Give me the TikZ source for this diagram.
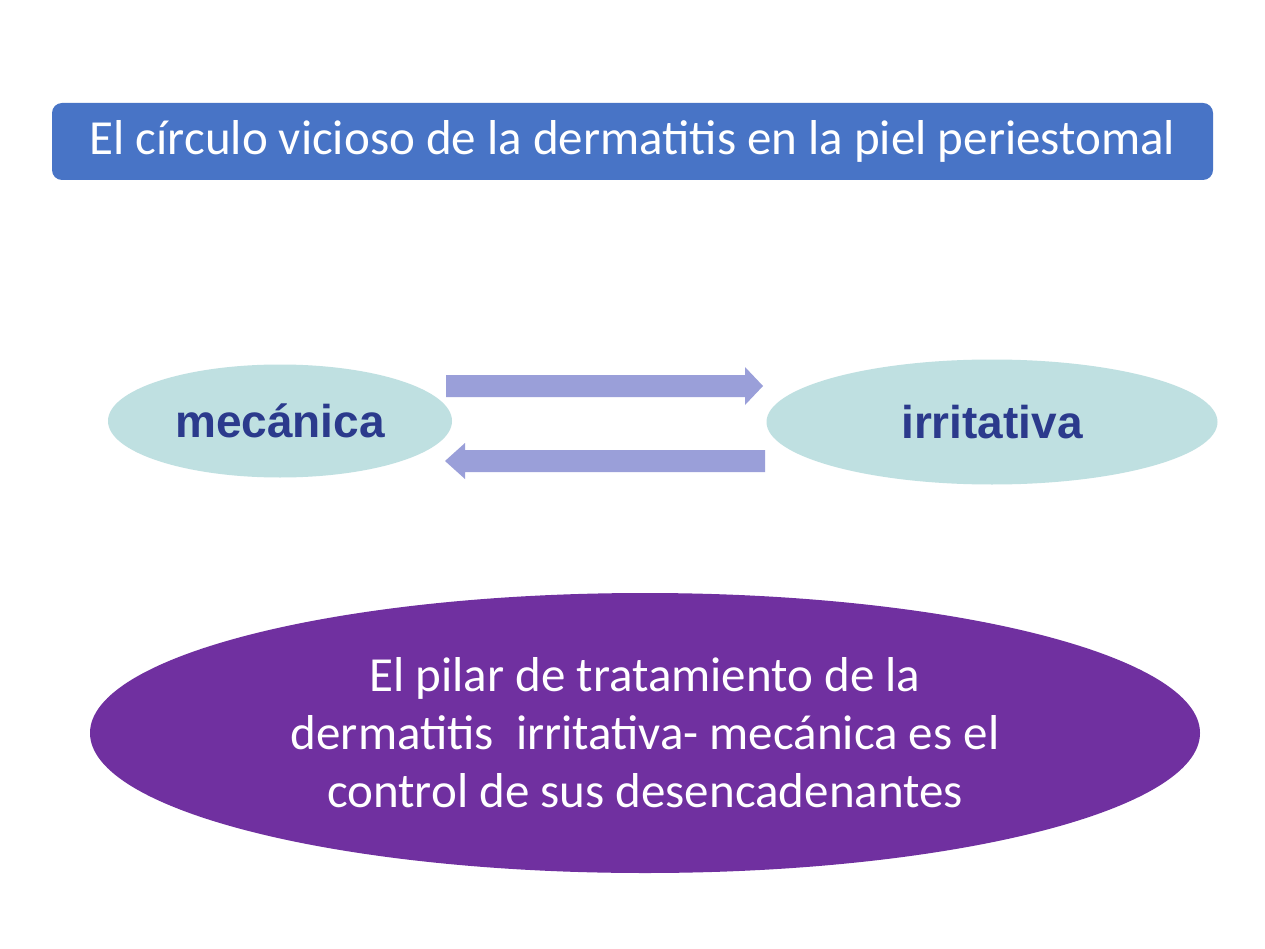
\documentclass[tikz,border=0pt]{standalone}
\usepackage{fontspec}
\setmainfont{Carlito}
\newfontfamily\arialfont{Liberation Sans}
\usetikzlibrary{shapes.geometric}
\definecolor{titleblue}{HTML}{4874C6}
\definecolor{tealfill}{HTML}{BFE0E1}
\definecolor{labelblue}{HTML}{2B3A8C}
\definecolor{arrowfill}{HTML}{9A9FD9}
\definecolor{purplefill}{HTML}{7030A0}
\tikzset{
  bubble/.style={ellipse, fill=tealfill, inner sep=0pt, text=labelblue, font=\arialfont\bfseries\fontsize{46}{52}\selectfont},
  fatarrow/.style={fill=arrowfill, draw=none}
}
\begin{document}
\begin{tikzpicture}[x=1pt,y=-1pt]
\useasboundingbox (0,0) rectangle (1265,949);
\fill[white] (0,0) rectangle (1265,949);
% title
\node[fill=titleblue, rounded corners=10pt, minimum width=1161pt, minimum height=77pt, inner sep=0pt, text=white, font=\fontsize{49}{56}\selectfont] (title) at (632.5,141.5) {El círculo vicioso de la dermatitis en la piel periestomal};
% ellipses
\node[bubble, minimum width=344pt, minimum height=113pt] (mec) at (280,421) {mecánica};
\node[bubble, minimum width=451pt, minimum height=125pt] (irr) at (992,422) {irritativa};
% arrows
\fill[fatarrow] (446,375) -- (745,375) -- (745,367) -- (763,386) -- (745,405) -- (745,397) -- (446,397) -- cycle;
\fill[fatarrow] (765,450) -- (465,450) -- (465,443) -- (445,461) -- (465,479) -- (465,472) -- (765,472) -- cycle;
% bottom
\node[ellipse, fill=purplefill, minimum width=1110pt, minimum height=280pt, inner sep=0pt, text=white, align=center, font=\fontsize{49}{58}\selectfont] (pilar) at (645,733) {El pilar de tratamiento de la\\dermatitis\ \ irritativa- mecánica es el\\control de sus desencadenantes};
\end{tikzpicture}
\end{document}
